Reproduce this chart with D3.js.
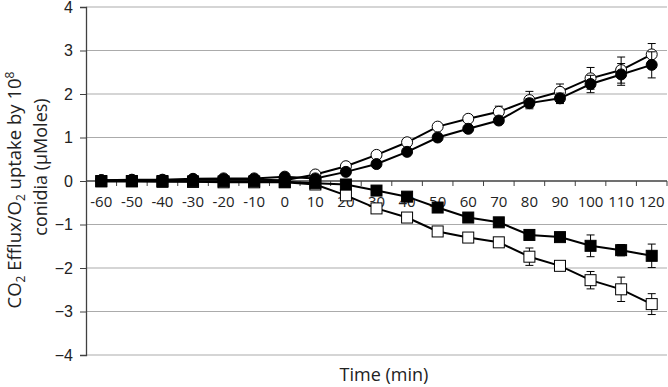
<!DOCTYPE html>
<html>
<head>
<meta charset="utf-8">
<script src="https://cdn.jsdelivr.net/npm/d3@7"></script>
<style>
	body { margin: 0; background: #fff; }
	svg { display: block; font-family: "Open Sans", "DejaVu Sans", sans-serif; }
</style>
</head>
<body>
<svg id="chart"></svg>
<script>
const times = [-60, -50, -40, -30, -20, -10, 0, 10, 20, 30, 40, 50, 60, 70, 80, 90, 100, 110, 120];
const yTicks = [-4, -3, -2, -1, 0, 1, 2, 3, 4];

// open circles
const openCircle = [0.02, 0.02, 0.02, 0.03, 0.03, 0.03, 0.02, 0.15, 0.34, 0.6, 0.89, 1.25, 1.43, 1.59, 1.86, 2.05, 2.36, 2.55, 2.91];
const openCircleErr = [0.03, 0.03, 0.03, 0.03, 0.03, 0.03, 0.03, 0.04, 0.06, 0.06, 0.08, 0.06, 0.06, 0.13, 0.2, 0.18, 0.25, 0.3, 0.25];
// filled circles
const filledCircle = [0.02, 0.03, 0.03, 0.05, 0.06, 0.06, 0.1, 0.06, 0.21, 0.39, 0.67, 1.0, 1.2, 1.39, 1.79, 1.9, 2.23, 2.45, 2.67];
const filledCircleErr = [0.03, 0.03, 0.03, 0.03, 0.03, 0.03, 0.03, 0.04, 0.05, 0.05, 0.06, 0.06, 0.06, 0.06, 0.1, 0.12, 0.2, 0.25, 0.3];
// filled squares
const filledSquare = [0, 0, 0, -0.01, -0.01, -0.01, -0.02, -0.05, -0.08, -0.22, -0.36, -0.61, -0.84, -0.95, -1.24, -1.29, -1.49, -1.59, -1.72];
const filledSquareErr = [0.02, 0.02, 0.02, 0.02, 0.02, 0.02, 0.02, 0.03, 0.04, 0.05, 0.06, 0.06, 0.06, 0.06, 0.08, 0.1, 0.25, 0.13, 0.27];
// open squares
const openSquare = [-0.01, -0.01, -0.02, -0.02, -0.03, -0.03, -0.03, -0.08, -0.33, -0.63, -0.84, -1.16, -1.3, -1.41, -1.74, -1.95, -2.28, -2.49, -2.83];
const openSquareErr = [0.02, 0.02, 0.02, 0.02, 0.02, 0.02, 0.02, 0.03, 0.05, 0.05, 0.06, 0.06, 0.06, 0.06, 0.2, 0.06, 0.2, 0.28, 0.24];

const width = 668;
const height = 387;
const plot = { left: 86, right: 667, top: 7, bottom: 355 };

const svg = d3.select("#chart")
	.attr("width", width)
	.attr("height", height);

const x = d3.scaleBand()
	.domain(times)
	.range([plot.left, plot.right]);

const y = d3.scaleLinear()
	.domain([-4, 4])
	.range([plot.bottom, plot.top]);

const cx = t => x(t) + x.bandwidth() / 2;

// horizontal gridlines
svg.append("g")
	.selectAll("line")
	.data(yTicks.filter(d => d !== 0))
	.enter().append("line")
	.attr("x1", plot.left)
	.attr("x2", plot.right)
	.attr("y1", d => y(d))
	.attr("y2", d => y(d))
	.attr("stroke", "#ababab")
	.attr("stroke-width", 1);

// y axis
const yAxis = svg.append("g")
	.attr("transform", `translate(${plot.left},0)`)
	.call(d3.axisLeft(y).tickValues(yTicks).tickSize(6).tickPadding(7));
yAxis.select(".domain").attr("stroke", "#404040").attr("stroke-width", 1.3);
yAxis.selectAll(".tick line").attr("stroke", "#404040");
yAxis.selectAll(".tick text")
	.attr("font-size", "16px")
	.attr("fill", "#222");

// x axis along zero, ticks between categories
const zeroY = y(0);
svg.append("line")
	.attr("x1", plot.left)
	.attr("x2", plot.right)
	.attr("y1", zeroY)
	.attr("y2", zeroY)
	.attr("stroke", "#404040")
	.attr("stroke-width", 1.3);

svg.append("g")
	.selectAll("line")
	.data(times)
	.enter().append("line")
	.attr("x1", d => x(d) + x.bandwidth())
	.attr("x2", d => x(d) + x.bandwidth())
	.attr("y1", zeroY)
	.attr("y2", zeroY + 5)
	.attr("stroke", "#404040");

svg.append("g")
	.selectAll("text")
	.data(times)
	.enter().append("text")
	.attr("x", d => cx(d))
	.attr("y", zeroY + 26)
	.attr("text-anchor", "middle")
	.attr("font-size", "15px")
	.attr("fill", "#222")
	.text(d => d);

// series
const series = [
	{ values: openSquare, err: openSquareErr, shape: "square", fill: "#fff" },
	{ values: openCircle, err: openCircleErr, shape: "circle", fill: "#fff" },
	{ values: filledCircle, err: filledCircleErr, shape: "circle", fill: "#000" },
	{ values: filledSquare, err: filledSquareErr, shape: "square", fill: "#000" }
];

const line = d3.line()
	.x(d => cx(d.t))
	.y(d => y(d.v));

series.forEach(s => {
	const pts = times.map((t, i) => ({ t: t, v: s.values[i], e: s.err[i] }));
	const g = svg.append("g");

	// error bars
	const eb = g.selectAll(".err")
		.data(pts)
		.enter().append("g")
		.attr("class", "err")
		.attr("stroke", "#000")
		.attr("stroke-width", 1);
	eb.append("line")
		.attr("x1", d => cx(d.t))
		.attr("x2", d => cx(d.t))
		.attr("y1", d => y(d.v + d.e))
		.attr("y2", d => y(d.v - d.e));
	eb.append("line")
		.attr("x1", d => cx(d.t) - 4)
		.attr("x2", d => cx(d.t) + 4)
		.attr("y1", d => y(d.v + d.e))
		.attr("y2", d => y(d.v + d.e));
	eb.append("line")
		.attr("x1", d => cx(d.t) - 4)
		.attr("x2", d => cx(d.t) + 4)
		.attr("y1", d => y(d.v - d.e))
		.attr("y2", d => y(d.v - d.e));

	g.append("path")
		.datum(pts)
		.attr("d", line)
		.attr("fill", "none")
		.attr("stroke", "#000")
		.attr("stroke-width", 2);

	if (s.shape === "circle") {
		g.selectAll(".mk")
			.data(pts)
			.enter().append("circle")
			.attr("class", "mk")
			.attr("cx", d => cx(d.t))
			.attr("cy", d => y(d.v))
			.attr("r", 5.5)
			.attr("fill", s.fill)
			.attr("stroke", "#000")
			.attr("stroke-width", 1);
	} else {
		g.selectAll(".mk")
			.data(pts)
			.enter().append("rect")
			.attr("class", "mk")
			.attr("x", d => cx(d.t) - 5.5)
			.attr("y", d => y(d.v) - 5.5)
			.attr("width", 11)
			.attr("height", 11)
			.attr("fill", s.fill)
			.attr("stroke", "#000")
			.attr("stroke-width", 1);
	}
});

// axis titles
svg.append("text")
	.attr("x", 384)
	.attr("y", 381)
	.attr("text-anchor", "middle")
	.attr("font-size", "18px")
	.attr("fill", "#222")
	.text("Time (min)");

const yTitle = svg.append("text")
	.attr("transform", "translate(21, 190) rotate(-90)")
	.attr("text-anchor", "middle")
	.attr("font-size", "18.5px")
	.attr("fill", "#222");
yTitle.append("tspan").text("CO");
yTitle.append("tspan").attr("font-size", "12px").attr("dy", 4).text("2");
yTitle.append("tspan").attr("dy", -4).text(" Efflux/O");
yTitle.append("tspan").attr("font-size", "12px").attr("dy", 4).text("2");
yTitle.append("tspan").attr("dy", -4).text(" uptake by 10");
yTitle.append("tspan").attr("font-size", "12px").attr("dy", -7).text("8");

svg.append("text")
	.attr("transform", "translate(47, 167) rotate(-90)")
	.attr("text-anchor", "middle")
	.attr("font-size", "18px")
	.attr("fill", "#222")
	.text("conidia (µMoles)");
</script>
</body>
</html>
